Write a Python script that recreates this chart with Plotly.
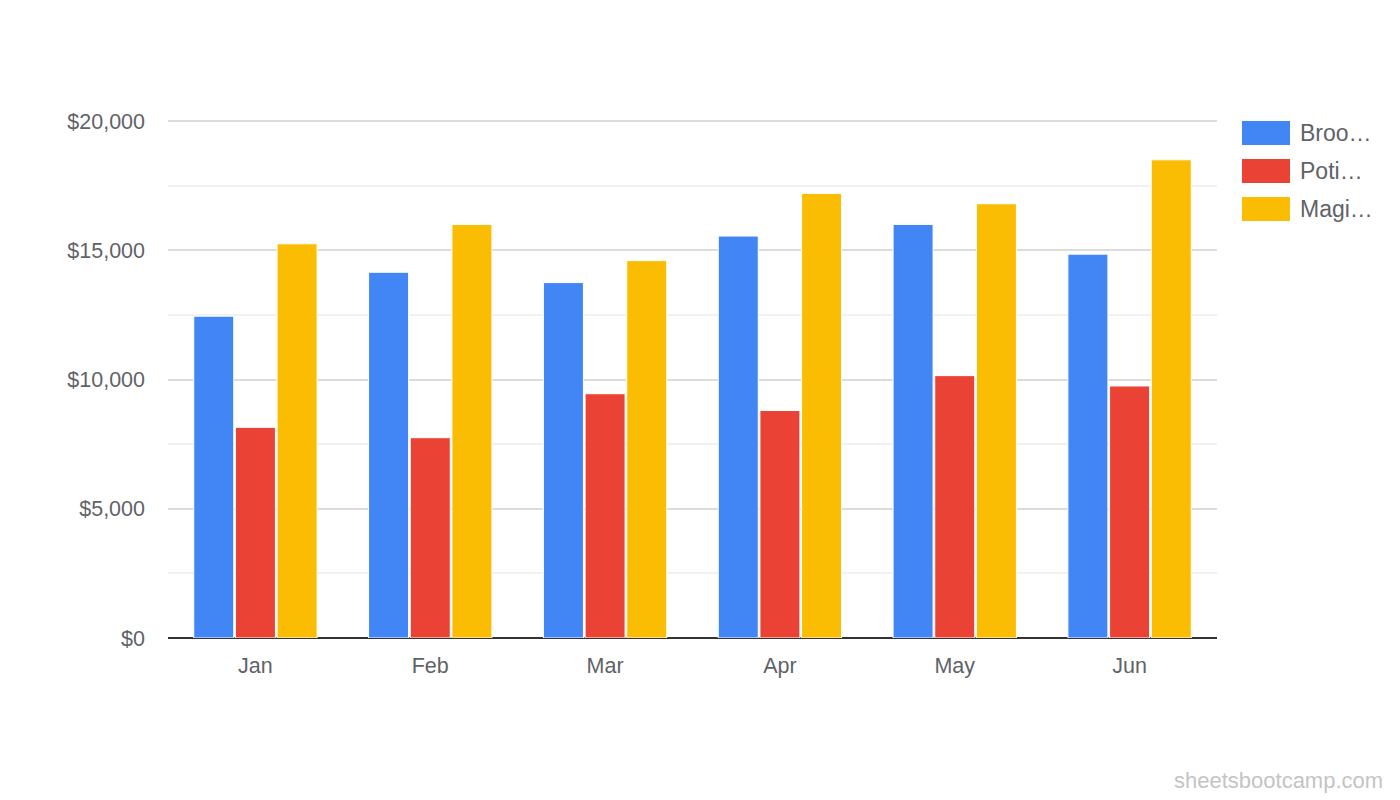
import plotly.graph_objects as go

months = ['Jan', 'Feb', 'Mar', 'Apr', 'May', 'Jun']
series_names = ['Broo…', 'Poti…', 'Magi…']
broomsticks = [12450, 14150, 13750, 15550, 16000, 14850]
potions = [8150, 7750, 9450, 8800, 10150, 9750]
magic = [15250, 16000, 14600, 17200, 16800, 18500]
colors = ['#4285F4', '#EA4335', '#FBBC04']

text_color = '#5f6368'
family = 'Liberation Sans, Arial, sans-serif'
font = dict(family=family, size=21.5, color=text_color)

fig = go.Figure()
for name, vals, col in zip(series_names, [broomsticks, potions, magic], colors):
    fig.add_trace(go.Bar(
        x=months, y=vals, name=name,
        marker=dict(color=col, line=dict(color='white', width=1)),
        showlegend=False,
    ))

# legend drawn by hand so the swatches can match the big Sheets style
pw, ph = 1049, 518  # plot area in px
for i, (name, col) in enumerate(zip(series_names, colors)):
    y0 = 1.0 - (1 + i * 38) / ph
    fig.add_shape(type='rect', xref='paper', yref='paper',
                  x0=1 + 25 / pw, x1=1 + 73 / pw,
                  y0=y0 - 24 / ph, y1=y0,
                  fillcolor=col, line=dict(width=0))
    fig.add_annotation(text=name, xref='paper', yref='paper',
                       x=1 + 81 / pw, y=y0 - 12 / ph, xanchor='left', yanchor='middle',
                       showarrow=False, font=dict(size=23, color=text_color, family=family))

fig.add_annotation(text='sheetsbootcamp.com', xref='paper', yref='paper',
                   x=1 + 168 / pw, y=-142 / ph, xanchor='right', yanchor='middle',
                   showarrow=False, font=dict(size=22, color='#c4c4c4', family=family))

fig.update_layout(
    width=1392, height=792,
    margin=dict(l=160, r=183, t=112, b=162),
    paper_bgcolor='white', plot_bgcolor='white',
    barmode='group', bargap=0.285, bargroupgap=0.04,
    font=font,
    xaxis=dict(showgrid=False, showline=False, ticks='', ticklabelstandoff=12),
    yaxis=dict(range=[0, 20040], dtick=5000, tickformat='$,.0f',
               showgrid=True, gridcolor='#dcdcdc', gridwidth=1.5,
               zeroline=True, zerolinecolor='#333333', zerolinewidth=2,
               ticklabelstandoff=22,
               minor=dict(dtick=2500, showgrid=True, gridcolor='#f1f1f1', gridwidth=1.5)),
)

fig.write_html("out.html")
